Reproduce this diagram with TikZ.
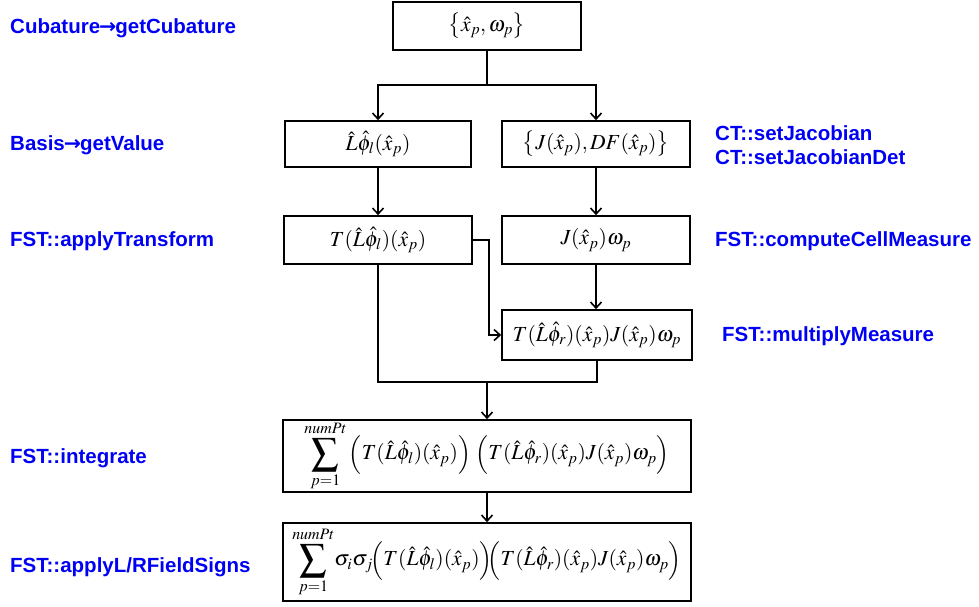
\documentclass[tikz,border=0pt]{standalone}
\usepackage{mathptmx}
\usepackage{fontspec}
\setmainfont{Liberation Serif}
\newfontfamily\lblfont{Liberation Sans}
\newfontfamily\arrfont{DejaVu Sans}
\usetikzlibrary{arrows.meta}
\definecolor{lblblue}{RGB}{0,0,245}
\newcommand{\bigsum}{\mathop{\vcenter{\hbox{\scalebox{1.25}{$\displaystyle\sum$}}}}\limits}
\newcommand{\tallstrut}{\vrule height 22pt depth 14pt width 0pt}
\newcommand{\rarr}{{\arrfont\bfseries\kern-1pt→\kern-1pt}}
\tikzset{
  box/.style={draw, line width=1.6pt, inner sep=0pt, anchor=center,
    font=\fontsize{21.5}{26}\selectfont},
  lbl/.style={anchor=west, inner sep=0pt, text=lblblue,
    font=\lblfont\bfseries\fontsize{20.5}{24}\selectfont},
  conn/.style={line width=1.6pt},
  arr/.style={conn, -{Straight Barb[length=6pt,width=11pt,line width=1.6pt]}}
}
\begin{document}
\begin{tikzpicture}[x=1pt,y=-1pt]
\useasboundingbox (0,0) rectangle (979,606);
% boxes
\node[box, minimum width=188pt, minimum height=48pt] (A) at (487,26) {$\left\{\hat{x}_p,\omega_p\right\}$};
\node[box, minimum width=186pt, minimum height=46pt] (B) at (378,144) {$\hat{L}\hat{\phi}_l(\hat{x}_p)$};
\node[box, minimum width=188pt, minimum height=46pt] (C) at (596,144) {$\left\{J(\hat{x}_p),DF(\hat{x}_p)\right\}$};
\node[box, minimum width=188pt, minimum height=48pt] (D) at (378,240) {$T(\hat{L}\hat{\phi}_l)(\hat{x}_p)$};
\node[box, minimum width=188pt, minimum height=48pt] (E) at (596,240) {$J(\hat{x}_p)\omega_p$};
\node[box, minimum width=190pt, minimum height=50pt] (F) at (597,335) {$T(\hat{L}\hat{\phi}_r)(\hat{x}_p)J(\hat{x}_p)\omega_p$};
\node[box, minimum width=408pt, minimum height=72pt] (G) at (487,456) {$\bigsum_{p=1}^{numPt}{\left(\tallstrut T(\hat{L}\hat{\phi}_l)(\hat{x}_p)\right)}\;{\left(\tallstrut T(\hat{L}\hat{\phi}_r)(\hat{x}_p)J(\hat{x}_p)\omega_p\right)}$};
\node[box, minimum width=408pt, minimum height=78pt] (H) at (487,562) {$\bigsum_{p=1}^{numPt}\!\sigma_i\sigma_j\!{\left(\tallstrut T(\hat{L}\hat{\phi}_l)(\hat{x}_p)\right)}\!\!{\left(\tallstrut T(\hat{L}\hat{\phi}_r)(\hat{x}_p)J(\hat{x}_p)\omega_p\right)}$};
% labels
\node[lbl] (l1) at (10,28) {Cubature\rarr getCubature};
\node[lbl] (l2) at (10,145) {Basis\rarr getValue};
\node[lbl] (l3) at (10,241) {FST::applyTransform};
\node[lbl] (l4) at (10,458) {FST::integrate};
\node[lbl] (l5) at (10,567) {FST::applyL/RFieldSigns};
\node[lbl] (r1) at (715,133) {CT::setJacobian};
\node[lbl] (r2) at (715,157) {CT::setJacobianDet};
\node[lbl] (r3) at (715,241) {FST::computeCellMeasure};
\node[lbl] (r4) at (722,336) {FST::multiplyMeasure};
% connectors
\coordinate (S) at (487,85);
\coordinate (J) at (487,382);
\draw[conn] (A.south) -- (S);
\draw[arr] (S) -| (B.north);
\draw[arr] (S) -| (C.north);
\draw[arr] (B.south) -- (D.north);
\draw[arr] (C.south) -- (E.north);
\draw[arr] (E.south) -- (E.south |- F.north);
\draw[arr] (D.east) -- ++(16,0) |- (F.west);
\draw[conn] (D.south) |- (J) -| (F.south);
\draw[arr] (J) -- (G.north);
\draw[arr] (G.south) -- (H.north);
\end{tikzpicture}
\end{document}
